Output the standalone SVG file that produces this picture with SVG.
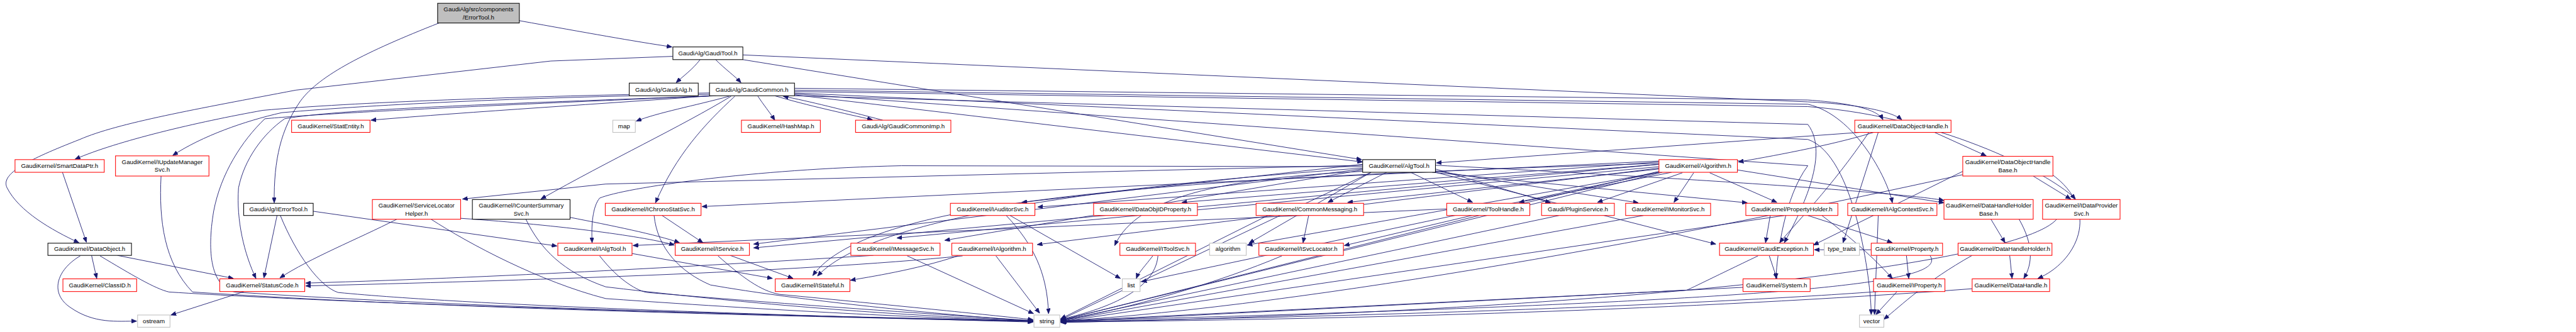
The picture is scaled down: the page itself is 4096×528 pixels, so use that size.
<svg xmlns="http://www.w3.org/2000/svg" width="4096" height="528" viewBox="0 0 4096 528">
<style>
.nd rect{fill:#fff;stroke-width:1.4}
.r rect{stroke:#ff0000}
.k rect{stroke:#000}
.g rect{stroke:#bfbfbf}
.top rect{fill:#bfbfbf;stroke:#000}
text{font-family:"Liberation Sans",Arial,sans-serif;font-size:13px;text-anchor:middle;fill:#000}
.e path{fill:none;stroke:#191970;stroke-width:1.2;marker-end:url(#ah)}
</style>
<defs>
<marker id="ah" markerWidth="12" markerHeight="9" refX="11" refY="4.5" orient="auto" markerUnits="userSpaceOnUse">
<path d="M0,0 L11,4.5 L0,9 z" fill="#191970" stroke="#191970"/>
</marker>
</defs>
<rect width="4096" height="528" fill="#fff"/>
<g transform="scale(0.74663)">
<g id="edges" class="e">
<path d="M1106,44 C1250,70 1350,88 1431,100"/>
<path d="M935,49 C780,110 680,160 640,215 C598,275 583,340 584,432"/>
<path d="M1491,127 C1475,148 1455,162 1440,176"/>
<path d="M1524,127 C1545,148 1565,162 1578,176"/>
<path d="M1582,127 L2900,340"/>
<path d="M1582,117 L3850,217 C3960,222 4030,238 4050,255"/>
<path d="M1433,120 L1173,130 L630,192 C420,232 250,262 170,297 C60,340 0,370 15,400 C40,450 110,490 168,517"/>
<path d="M1515,204 C1300,220 1000,238 790,256"/>
<path d="M1553,205 C1480,225 1400,240 1355,258"/>
<path d="M1614,205 C1625,222 1640,240 1650,256"/>
<path d="M1650,204 C1720,225 1800,242 1858,255"/>
<path d="M1880,256 C1800,235 1720,215 1668,205"/>
<path d="M1511,198 C1100,205 750,218 560,235 C420,260 250,300 160,339"/>
<path d="M1511,201 C1150,206 800,222 600,240 C520,258 430,290 368,331"/>
<path d="M1520,204 C1100,220 720,232 606,253 C560,285 520,340 508,400 C503,470 520,540 545,593"/>
<path d="M1525,204 C1100,222 700,240 564,253 C515,300 470,370 455,450 C440,540 450,610 500,622 C900,650 1600,672 2200,684"/>
<path d="M1557,205 C1450,270 1300,340 1152,424"/>
<path d="M1565,205 C1500,265 1440,330 1396,432"/>
<path d="M1692,188 L3850,213 C3950,220 4000,235 4010,255"/>
<path d="M1692,192 L3850,222 C3950,245 4020,380 4030,432"/>
<path d="M1692,195 L3850,227 C4150,250 4380,380 4420,424"/>
<path d="M1692,198 L3850,297 C3950,330 3985,600 3985,670"/>
<path d="M1692,200 L3850,353 C3800,420 3785,540 3782,593"/>
<path d="M1692,202 L2902,345"/>
<path d="M1692,204 L3850,265 C3900,330 3830,460 3800,517"/>
<path d="M195,544 L206,593"/>
<path d="M250,544 L497,593"/>
<path d="M171,545 C120,575 105,625 150,655 C200,690 250,684 291,684"/>
<path d="M213,545 C280,585 330,615 360,622 C800,650 1600,670 2200,684"/>
<path d="M133,367 L184,516"/>
<path d="M343,375 C338,470 350,560 410,622 C900,655 1600,672 2200,685"/>
<path d="M520,621 L364,671"/>
<path d="M590,459 L562,592"/>
<path d="M667,450 L1186,524"/>
<path d="M597,459 C630,540 680,610 720,623 C1000,650 1600,670 2200,686"/>
<path d="M845,467 C760,510 660,550 596,592"/>
<path d="M918,467 C1000,520 1150,600 1290,636 C1700,665 2000,678 2200,684"/>
<path d="M981,465 C1200,480 1380,505 1436,522"/>
<path d="M1120,467 C1150,530 1200,580 1290,611 C1700,660 2000,675 2200,683"/>
<path d="M1214,463 C1300,480 1400,500 1447,517"/>
<path d="M1410,459 L1497,517"/>
<path d="M1393,459 C1400,530 1450,580 1513,607 C1700,640 2000,670 2200,684"/>
<path d="M1346,540 L1645,593"/>
<path d="M1277,545 C1320,600 1360,620 1378,623 C1700,650 2000,670 2200,683"/>
<path d="M1555,544 L1689,593"/>
<path d="M1529,545 C1580,590 1620,620 1660,627 C1900,650 2100,670 2200,681"/>
<path d="M1860,544 C1600,560 1100,590 651,603"/>
<path d="M2050,545 C1700,580 1100,598 651,609"/>
<path d="M1932,545 L2201,668"/>
<path d="M2121,545 L2214,667"/>
<path d="M2040,545 C1950,575 1850,590 1811,597"/>
<path d="M2143,459 C2200,520 2230,580 2233,668"/>
<path d="M2151,459 L2386,593"/>
<path d="M2455,545 C2440,565 2425,580 2420,593"/>
<path d="M2466,545 C2460,620 2350,660 2259,680"/>
<path d="M2902,355 L1920,353 C1600,360 1330,400 1277,422 C1262,440 1259,480 1261,517"/>
<path d="M2953,367 L2828,431"/>
<path d="M3004,367 L3136,431"/>
<path d="M3057,360 L3302,432"/>
<path d="M3057,364 L3489,432"/>
<path d="M3050,367 L3721,432"/>
<path d="M3560,367 L3235,431"/>
<path d="M3583,368 L3402,431"/>
<path d="M3607,368 L3565,431"/>
<path d="M3641,368 L3784,431"/>
<path d="M2787,459 L2775,517"/>
<path d="M3533,360 L2870,431"/>
<path d="M3533,365 L2863,523"/>
<path d="M3057,367 L3654,520"/>
<path d="M3768,545 L3784,593"/>
<path d="M3744,545 C3650,590 3600,615 3592,618 L2260,684"/>
<path d="M3712,612 L2260,686"/>
<path d="M3150,459 L2260,682"/>
<path d="M3320,459 L2260,683"/>
<path d="M3500,459 L2260,684"/>
<path d="M3800,459 L2260,685"/>
<path d="M2920,367 L2259,681"/>
<path d="M3540,367 L2259,682"/>
<path d="M2902,360 L1605,520"/>
<path d="M3533,350 L1605,528"/>
<path d="M2902,362 L2012,512"/>
<path d="M3533,355 L1910,507"/>
<path d="M3533,358 L2209,521"/>
<path d="M2902,365 C2600,380 2420,420 2374,523"/>
<path d="M3533,345 L2210,441"/>
<path d="M2902,350 L2176,431"/>
<path d="M3533,350 L2517,431"/>
<path d="M3533,367 L2656,522"/>
<path d="M2920,367 L2660,518"/>
<path d="M2730,545 C2600,600 2400,660 2259,682"/>
<path d="M2700,459 L2259,679"/>
<path d="M3533,367 L2431,600"/>
<path d="M3533,343 L1495,440"/>
<path d="M2902,352 L1290,392 L985,424"/>
<path d="M3081,445 L1348,523"/>
<path d="M3533,348 C2500,380 1850,420 1731,587"/>
<path d="M2902,358 C2300,400 1850,470 1741,588"/>
<path d="M3990,282 C3900,310 3760,335 3702,345"/>
<path d="M3960,282 L3059,347"/>
<path d="M4120,282 L4230,332"/>
<path d="M3980,282 C3900,400 3820,480 3790,517"/>
<path d="M4000,282 L3925,517"/>
<path d="M4330,375 L4410,424"/>
<path d="M4368,370 C4480,450 4420,560 4340,593"/>
<path d="M4180,365 L3862,522"/>
<path d="M4180,372 C3600,500 2800,650 2259,684"/>
<path d="M3700,362 L4140,432"/>
<path d="M3057,352 C3600,380 4050,410 4140,427"/>
<path d="M4240,467 L4270,517"/>
<path d="M4300,467 C4330,520 4330,560 4310,593"/>
<path d="M4280,544 L4285,593"/>
<path d="M4200,544 C4100,600 4050,650 4012,680"/>
<path d="M4200,615 C3600,660 2900,680 2259,686"/>
<path d="M4380,467 C4300,560 3500,660 2259,687"/>
<path d="M3850,459 L4030,517"/>
<path d="M3880,459 C3960,520 4000,560 4030,593"/>
<path d="M3770,459 L3760,517"/>
<path d="M4060,544 L4065,593"/>
<path d="M3985,532 L3864,532"/>
<path d="M4110,544 C4150,600 3900,640 2259,684"/>
<path d="M4040,621 L3995,670"/>
<path d="M4000,621 C3600,650 2900,675 2259,685"/>
<path d="M4000,459 L3992,670"/>
</g>
<g id="n_errortool" class="nd top"><rect x="932" y="7" width="174" height="42"/><text x="1019" y="24">GaudiAlg/src/components</text><text x="1019" y="41">/ErrorTool.h</text></g>
<g id="n_gauditool" class="nd k"><rect x="1433" y="100" width="149" height="27"/><text x="1507.5" y="118">GaudiAlg/GaudiTool.h</text></g>
<g id="n_gaudialg" class="nd k"><rect x="1340" y="177" width="147" height="27"/><text x="1413.5" y="195">GaudiAlg/GaudiAlg.h</text></g>
<g id="n_gaudicommon" class="nd k"><rect x="1511" y="177" width="181" height="27"/><text x="1601.5" y="195">GaudiAlg/GaudiCommon.h</text></g>
<g id="n_statentity" class="nd r"><rect x="621" y="256" width="167" height="26"/><text x="704.5" y="273">GaudiKernel/StatEntity.h</text></g>
<g id="n_map" class="nd g"><rect x="1305" y="256" width="48" height="26"/><text x="1329" y="273">map</text></g>
<g id="n_hashmap" class="nd r"><rect x="1579" y="256" width="168" height="26"/><text x="1663" y="273">GaudiKernel/HashMap.h</text></g>
<g id="n_gaudicommonimp" class="nd r"><rect x="1822" y="256" width="203" height="26"/><text x="1923.5" y="273">GaudiAlg/GaudiCommonImp.h</text></g>
<g id="n_dataobjecthandle" class="nd r"><rect x="3950" y="256" width="205" height="26"/><text x="4052.5" y="273">GaudiKernel/DataObjectHandle.h</text></g>
<g id="n_smartdataptr" class="nd r"><rect x="32" y="340" width="190" height="27"/><text x="127" y="358">GaudiKernel/SmartDataPtr.h</text></g>
<g id="n_iupdatemanagersvc" class="nd r"><rect x="246" y="332" width="199" height="43"/><text x="345.5" y="349">GaudiKernel/IUpdateManager</text><text x="345.5" y="366">Svc.h</text></g>
<g id="n_algtool" class="nd k"><rect x="2902" y="340" width="155" height="27"/><text x="2979.5" y="358">GaudiKernel/AlgTool.h</text></g>
<g id="n_algorithm" class="nd r"><rect x="3533" y="340" width="167" height="27"/><text x="3616.5" y="358">GaudiKernel/Algorithm.h</text></g>
<g id="n_dataobjecthandlebase" class="nd r"><rect x="4180" y="333" width="192" height="42"/><text x="4276" y="350">GaudiKernel/DataObjectHandle</text><text x="4276" y="367">Base.h</text></g>
<g id="n_ierrortool" class="nd k"><rect x="519" y="433" width="148" height="26"/><text x="593" y="450">GaudiAlg/IErrorTool.h</text></g>
<g id="n_servicelocatorhelper" class="nd r"><rect x="793" y="425" width="188" height="42"/><text x="887" y="442">GaudiKernel/ServiceLocator</text><text x="887" y="459">Helper.h</text></g>
<g id="n_icountersummarysvc" class="nd k"><rect x="1006" y="425" width="208" height="42"/><text x="1110" y="442">GaudiKernel/ICounterSummary</text><text x="1110" y="459">Svc.h</text></g>
<g id="n_ichronostatsvc" class="nd r"><rect x="1289" y="433" width="204" height="26"/><text x="1391" y="450">GaudiKernel/IChronoStatSvc.h</text></g>
<g id="n_iauditorsvc" class="nd r"><rect x="2024" y="433" width="180" height="26"/><text x="2114" y="450">GaudiKernel/IAuditorSvc.h</text></g>
<g id="n_dataobjidproperty" class="nd r"><rect x="2329" y="433" width="221" height="26"/><text x="2439.5" y="450">GaudiKernel/DataObjIDProperty.h</text></g>
<g id="n_commonmessaging" class="nd r"><rect x="2675" y="433" width="229" height="26"/><text x="2789.5" y="450">GaudiKernel/CommonMessaging.h</text></g>
<g id="n_toolhandle" class="nd r"><rect x="3081" y="433" width="177" height="26"/><text x="3169.5" y="450">GaudiKernel/ToolHandle.h</text></g>
<g id="n_pluginservice" class="nd r"><rect x="3283" y="433" width="155" height="26"/><text x="3360.5" y="450">Gaudi/PluginService.h</text></g>
<g id="n_imonitorsvc" class="nd r"><rect x="3462" y="433" width="181" height="26"/><text x="3552.5" y="450">GaudiKernel/IMonitorSvc.h</text></g>
<g id="n_propertyholder" class="nd r"><rect x="3718" y="433" width="196" height="26"/><text x="3816" y="450">GaudiKernel/PropertyHolder.h</text></g>
<g id="n_ialgcontextsvc" class="nd r"><rect x="3935" y="433" width="190" height="26"/><text x="4030" y="450">GaudiKernel/IAlgContextSvc.h</text></g>
<g id="n_datahandleholderbase" class="nd r"><rect x="4140" y="425" width="190" height="42"/><text x="4235" y="442">GaudiKernel/DataHandleHolder</text><text x="4235" y="459">Base.h</text></g>
<g id="n_idataprovidersvc" class="nd r"><rect x="4350" y="425" width="165" height="42"/><text x="4432.5" y="442">GaudiKernel/IDataProvider</text><text x="4432.5" y="459">Svc.h</text></g>
<g id="n_dataobject" class="nd k"><rect x="102" y="518" width="178" height="26"/><text x="191" y="535">GaudiKernel/DataObject.h</text></g>
<g id="n_ialgtool" class="nd r"><rect x="1188" y="518" width="158" height="26"/><text x="1267" y="535">GaudiKernel/IAlgTool.h</text></g>
<g id="n_iservice" class="nd r"><rect x="1438" y="518" width="158" height="26"/><text x="1517" y="535">GaudiKernel/IService.h</text></g>
<g id="n_imessagesvc" class="nd r"><rect x="1812" y="518" width="190" height="26"/><text x="1907" y="535">GaudiKernel/IMessageSvc.h</text></g>
<g id="n_ialgorithm" class="nd r"><rect x="2027" y="518" width="172" height="26"/><text x="2113" y="535">GaudiKernel/IAlgorithm.h</text></g>
<g id="n_itoolsvc" class="nd r"><rect x="2385" y="518" width="161" height="26"/><text x="2465.5" y="535">GaudiKernel/IToolSvc.h</text></g>
<g id="n_algorithm_std" class="nd g"><rect x="2576" y="518" width="78" height="26"/><text x="2615" y="535">algorithm</text></g>
<g id="n_isvclocator" class="nd r"><rect x="2681" y="518" width="180" height="26"/><text x="2771" y="535">GaudiKernel/ISvcLocator.h</text></g>
<g id="n_gaudiexception" class="nd r"><rect x="3662" y="518" width="200" height="26"/><text x="3762" y="535">GaudiKernel/GaudiException.h</text></g>
<g id="n_type_traits" class="nd g"><rect x="3885" y="518" width="75" height="26"/><text x="3922.5" y="535">type_traits</text></g>
<g id="n_property" class="nd r"><rect x="3985" y="518" width="152" height="26"/><text x="4061" y="535">GaudiKernel/Property.h</text></g>
<g id="n_datahandleholder" class="nd r"><rect x="4170" y="518" width="200" height="26"/><text x="4270" y="535">GaudiKernel/DataHandleHolder.h</text></g>
<g id="n_classid" class="nd r"><rect x="134" y="594" width="157" height="27"/><text x="212.5" y="612">GaudiKernel/ClassID.h</text></g>
<g id="n_statuscode" class="nd r"><rect x="468" y="594" width="181" height="27"/><text x="558.5" y="612">GaudiKernel/StatusCode.h</text></g>
<g id="n_istateful" class="nd r"><rect x="1651" y="594" width="159" height="27"/><text x="1730.5" y="612">GaudiKernel/IStateful.h</text></g>
<g id="n_list" class="nd g"><rect x="2390" y="594" width="38" height="27"/><text x="2409" y="612">list</text></g>
<g id="n_system" class="nd r"><rect x="3712" y="594" width="143" height="27"/><text x="3783.5" y="612">GaudiKernel/System.h</text></g>
<g id="n_iproperty" class="nd r"><rect x="3990" y="594" width="152" height="27"/><text x="4066" y="612">GaudiKernel/IProperty.h</text></g>
<g id="n_datahandle" class="nd r"><rect x="4200" y="594" width="165" height="27"/><text x="4282.5" y="612">GaudiKernel/DataHandle.h</text></g>
<g id="n_ostream" class="nd g"><rect x="293" y="671" width="69" height="26"/><text x="327.5" y="688">ostream</text></g>
<g id="n_string" class="nd g"><rect x="2202" y="671" width="55" height="26"/><text x="2229.5" y="688">string</text></g>
<g id="n_vector" class="nd g"><rect x="3960" y="671" width="52" height="26"/><text x="3986" y="688">vector</text></g>
</g>
</svg>
